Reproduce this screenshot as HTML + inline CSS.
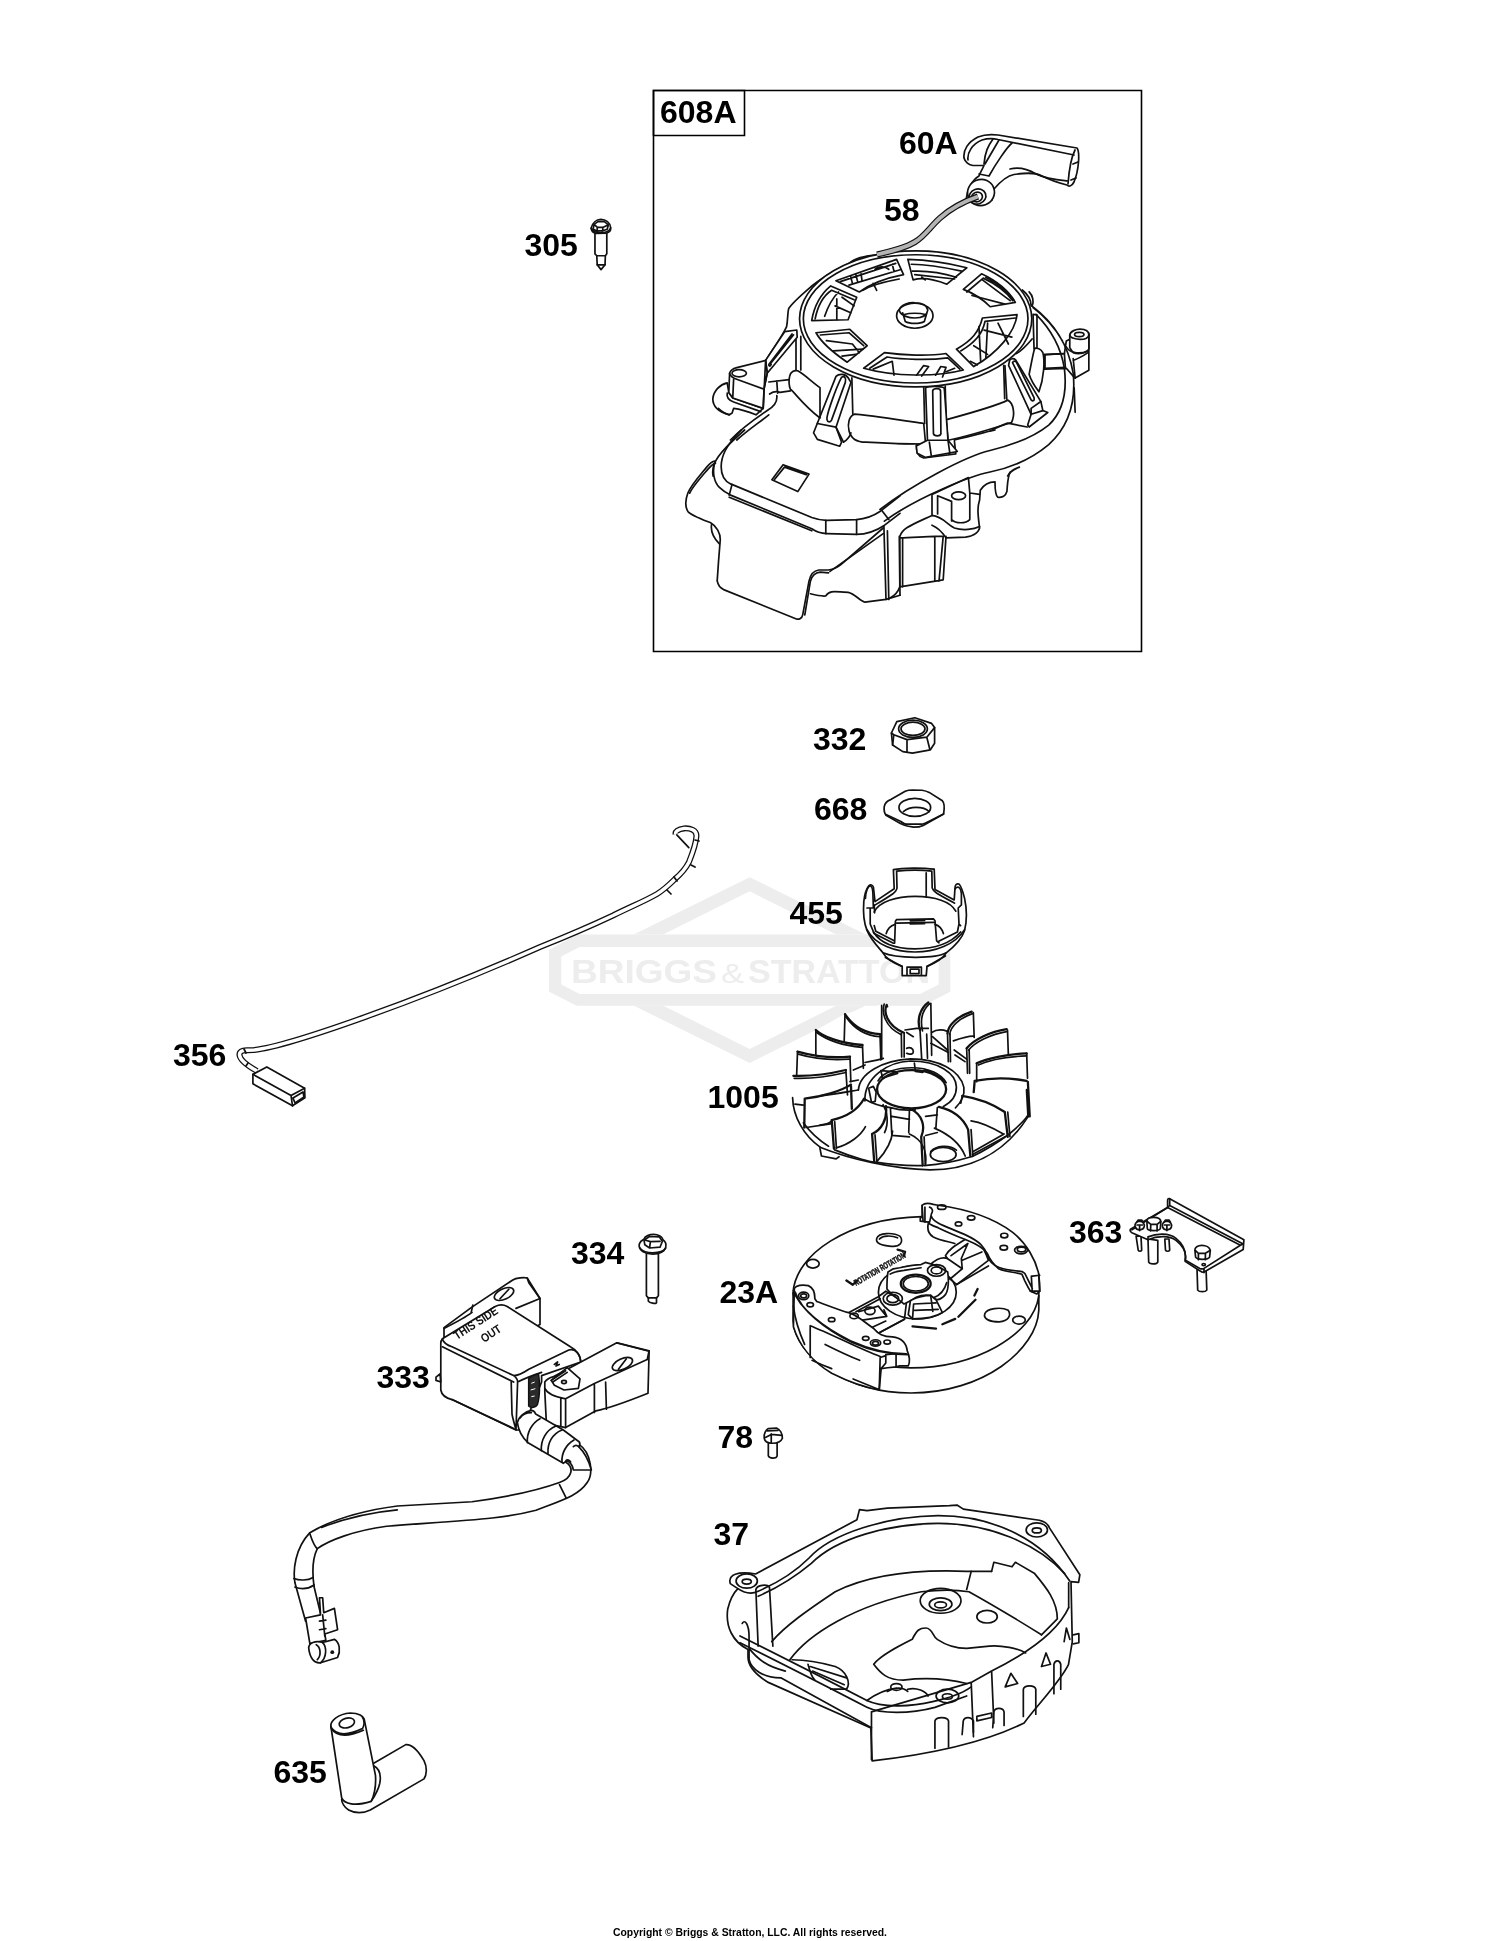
<!DOCTYPE html>
<html><head><meta charset="utf-8">
<style>
html,body{margin:0;padding:0;background:#fff;}
body{width:1500px;height:1941px;overflow:hidden;position:relative;}
svg{position:absolute;left:0;top:0;filter:grayscale(1);}
.lb{font-family:"Liberation Sans",sans-serif;font-weight:bold;font-size:32px;fill:#000;}
path,ellipse,circle,rect,polygon,polyline,line{vector-effect:non-scaling-stroke;}
.p{fill:#fff;stroke:#111;stroke-width:1.7;stroke-linejoin:round;stroke-linecap:round;}
.n{fill:none;stroke:#111;stroke-width:1.7;stroke-linejoin:round;stroke-linecap:round;}
.t{fill:none;stroke:#1a1a1a;stroke-width:1.0;stroke-linejoin:round;stroke-linecap:round;}
.k{fill:none;stroke:#111;stroke-width:2.3;stroke-linejoin:round;stroke-linecap:round;}
</style></head>
<body>
<svg width="1500" height="1941" viewBox="0 0 1500 1941">
<!-- wm -->
<g fill="#ededed" stroke="none">
<path fill-rule="evenodd" d="M749.7,877.3 L937.6,970.1 L749.7,1062.9 L561.8,970.1 Z M749.7,891.3 L907.4,970.1 L749.7,1048.9 L592,970.1 Z"/>
<path fill="#fff" d="M576.7,934.5 L923,934.5 L950.3,950 L950.3,991.7 L923,1005.7 L576.7,1005.7 L549.1,991.7 L549.1,950 Z"/>
<path fill-rule="evenodd" d="M576.7,934.5 L923,934.5 L950.3,950 L950.3,991.7 L923,1005.7 L576.7,1005.7 L549.1,991.7 L549.1,950 Z M579.6,947 L920,947 L938.7,956.5 L938.7,984.4 L920,994 L579.6,994 L561.3,984.4 L561.3,956.5 Z"/>
<g style="font-family:'Liberation Sans',sans-serif;font-weight:bold;font-size:34px">
<text x="571" y="983" textLength="146" lengthAdjust="spacingAndGlyphs">BRIGGS</text>
<text x="721" y="983" style="font-weight:normal;font-size:27px" textLength="23" lengthAdjust="spacingAndGlyphs">&amp;</text>
<text x="748" y="983" textLength="182" lengthAdjust="spacingAndGlyphs">STRATTON</text>
</g>
<text x="860" y="1024" style="font-family:'Liberation Sans',sans-serif;font-size:14px">®</text>
</g>

<!-- labels -->
<rect x="653.5" y="90.5" width="488" height="561" fill="none" stroke="#000" stroke-width="1.6"/>
<rect x="653.5" y="90.5" width="91" height="45" fill="none" stroke="#000" stroke-width="1.6"/>
<g class="lb">
<text x="660" y="123">608A</text>
<text x="899" y="154">60A</text>
<text x="884" y="221">58</text>
<text x="524.5" y="256">305</text>
<text x="813" y="750">332</text>
<text x="814" y="820">668</text>
<text x="789.5" y="924">455</text>
<text x="173" y="1066">356</text>
<text x="707.5" y="1108">1005</text>
<text x="571" y="1264">334</text>
<text x="1069" y="1243">363</text>
<text x="719.5" y="1303">23A</text>
<text x="376.5" y="1388">333</text>
<text x="717.5" y="1448">78</text>
<text x="713.5" y="1545">37</text>
<text x="273.5" y="1783">635</text>
</g>
<text x="613" y="1936" style="font-family:'Liberation Sans',sans-serif;font-weight:bold;font-size:10.5px" textLength="274" lengthAdjust="spacingAndGlyphs">Copyright © Briggs &amp; Stratton, LLC. All rights reserved.</text>

<!-- starter -->
<!-- TL region [690,230,900,440] f=0.14 -->
<g transform="translate(690,230) scale(0.14)">
<path class="n" d="M1340,178 C1250,185 1180,200 1140,235 C1050,280 940,340 870,400 C800,460 740,510 705,560 C695,600 700,640 690,690 C660,760 590,850 540,935"/>






</g>
<!-- TR region [890,230,1100,440] -->
<g transform="translate(890,230) scale(0.14)">
</g>
<!-- BL region [690,430,900,640] -->
<g transform="translate(690,430) scale(0.14)">
<path class="n" d="M390,0 C300,80 200,170 175,240 C160,300 170,370 210,410 C240,440 270,455 290,465 L870,705 C900,725 930,738 975,740 L1190,745 C1260,745 1330,720 1390,680 L1500,595"/>
<path class="n" d="M365,0 C290,80 235,150 225,230 C215,310 240,360 290,385 L870,625 C910,640 940,645 975,645 L1190,640 C1250,635 1300,620 1360,580 L1500,470"/>
<path class="n" d="M280,480 L870,720 M175,240 C165,260 160,300 165,330 M300,390 L280,465 M970,645 L970,740 M1190,640 L1190,745 M1370,575 L1420,640"/>
<path class="n" d="M585,355 L665,248 L850,315 L770,440 Z M605,352 L675,265 L830,320"/>
<path class="n" d="M195,1080 C200,1110 220,1130 240,1140 L760,1350 C780,1355 800,1345 805,1320 L850,1080 C860,1030 880,1005 920,1000 L990,1000 C1020,995 1050,985 1080,960 L1380,700"/>
<path class="n" d="M820,1320 L860,1080 C870,1040 890,1020 930,1015 L990,1020 M1000,1010 L1380,740"/>

<path class="n" d="M860,1170 C900,1180 940,1190 970,1185 C990,1150 1010,1150 1130,1160 C1180,1170 1210,1220 1250,1230 L1400,1210 L1500,1180"/>
<path class="n" d="M1385,690 L1400,1210 M1410,720 L1420,1210 M1495,760 L1500,1180"/>
</g>
<!-- BR region [890,430,1100,640] -->
<g transform="translate(890,430) scale(0.14)">


<path class="n" d="M860,300 C840,330 840,380 835,440 C825,470 800,485 770,480 C755,470 750,440 750,370 C710,370 670,390 645,430 L640,500 C620,560 630,620 640,700 C630,740 580,760 540,765 L400,770"/>
<path class="n" d="M300,460 L560,340 L570,450 L640,460 M300,460 L300,610 M340,470 L340,600 M340,470 L440,510 L440,650 M440,640 C470,670 540,670 570,640 L570,450"/>
<ellipse class="n" cx="490" cy="470" rx="50" ry="28"/>
<path class="n" d="M70,760 C90,700 150,680 300,610 C380,620 400,670 460,700 C520,720 600,710 640,690 M300,680 C350,700 380,740 400,770"/>
<path class="n" d="M70,770 L70,1120 M90,770 L90,1120 M70,770 C150,770 250,760 320,760 L380,760 M320,760 L320,1080 M380,760 L350,1080 M400,760 L380,1070 L70,1120 M0,1200 C40,1180 60,1150 70,1120"/>
<path class="n" d="M190,100 C185,150 200,190 240,200 L470,170 L460,80 M270,0 L290,190 M400,0 L420,170 M280,80 L410,70 M0,90 C100,100 150,100 200,90 M460,70 C600,40 700,10 750,0"/>
</g>
<!-- cylinder band [780,360] f=0.186667 -->
<g transform="translate(780,360) scale(0.186667)">
<path class="n" d="M385,95 L390,290 M770,145 L775,340 M1205,30 L1215,210 M885,140 L890,320"/>
<path class="p" d="M400,290 C550,305 700,330 770,340 L780,450 C700,450 550,445 460,440 C410,440 380,420 370,380 C360,340 370,300 400,290 Z"/>
<path class="p" d="M890,320 C1000,290 1150,250 1220,215 C1250,230 1262,290 1240,335 C1100,380 950,420 900,430 Z"/>

<path class="p" d="M180,390 L300,88 C315,72 350,72 365,95 L380,120 L300,360 L330,440 L320,462 L200,425 Z"/>
<path class="n" d="M252,320 C246,300 300,150 330,92 C345,85 356,95 350,120 L276,322 C270,334 256,336 252,320 Z M200,340 L300,360 M300,360 L340,440 C360,430 380,400 380,390"/>
<path class="p" d="M780,150 C790,138 862,138 880,150 L900,430 L950,490 L780,522 L735,500 L730,460 L790,430 Z"/>
<path class="n" d="M818,165 C822,150 858,150 860,165 L862,395 C860,410 826,410 822,395 Z M790,430 L900,430 M800,440 L810,510 M900,430 L910,500"/>
</g>
<!-- rim/windows [790,240] f=0.173333 -->
<g transform="translate(790,240) scale(0.173333)">
<ellipse class="p" cx="725" cy="455" rx="670" ry="392"/>
<ellipse class="n" cx="725" cy="455" rx="648" ry="370"/>
<path class="p" d="M265,235 L615,112 L655,200 C550,220 470,250 400,300 Z"/>
<path class="n" d="M290,240 L610,135 M340,260 L640,170 M350,210 L360,250 M380,200 L390,240 M410,195 L415,230 M490,170 C510,150 550,150 570,170 M590,140 L600,180 M420,290 C470,260 550,240 630,225 M480,250 L500,290"/>
<path class="p" d="M680,112 C800,115 920,135 1020,160 L905,255 C830,225 760,215 710,230 Z"/>
<path class="n" d="M700,140 C800,140 900,160 990,180 M705,180 C800,175 880,190 960,215 M720,200 L950,225 M760,215 L780,230"/>
<path class="p" d="M1000,285 L1105,195 C1180,230 1260,290 1300,360 L1155,385 C1100,330 1040,300 1000,285 Z"/>
<path class="n" d="M1020,300 L1115,220 C1190,255 1250,300 1285,350 M1050,320 L1240,370 M1110,230 L1270,350 M1130,215 C1200,250 1260,300 1290,345"/>
<path class="p" d="M960,630 C1050,580 1090,530 1110,450 L1310,430 C1300,530 1200,650 1060,730 Z"/>
<path class="n" d="M985,640 C1070,590 1110,540 1125,470 L1300,450 M1090,500 L1100,700 M1120,520 L1280,560 M1140,480 L1130,680 M1060,610 L1140,660 M1200,480 L1260,600 M1040,700 L1080,720"/>
<path class="p" d="M425,740 L545,650 C650,665 800,670 900,655 L1000,750 C850,790 600,790 425,740 Z"/>
<path class="n" d="M460,740 L560,675 C650,690 800,695 910,680 L980,745 M480,745 L590,700 L600,780 M730,780 L770,725 L800,730 L760,785 M840,780 L870,730 L900,735 L880,790 M900,760 L950,740"/>
<path class="p" d="M150,535 L345,515 L445,610 L330,705 C250,650 180,590 150,535 Z"/>
<path class="n" d="M175,548 L340,535 L425,610 M210,580 L360,600 L400,650 M250,640 L420,630 M300,670 L380,660"/>
<path class="p" d="M125,465 C140,380 180,310 235,265 L385,330 L335,460 Z"/>
<path class="n" d="M145,455 C160,380 195,320 240,290 L370,345 M200,440 C220,380 250,330 280,300 M260,380 L350,420 M270,340 L270,460 M300,330 L370,380"/>
<ellipse class="n" cx="720" cy="437" rx="105" ry="72"/>
<path class="n" d="M630,405 C640,370 690,360 720,362 C760,362 790,375 795,405 M630,405 C640,440 690,450 720,450 C760,450 790,440 795,405 M650,420 L665,470 M790,420 L775,470 M665,470 C690,485 750,485 775,470 M660,430 C690,420 750,420 780,430"/>
</g>
<!-- right region [990,290] f=0.097865 -->
<g transform="translate(990,290) scale(0.097865)">
<path class="p" d="M560,660 L760,650 L780,520 L820,500 L1010,440 L1010,820 L870,900 L850,880 L780,800 L560,810 Z"/>
<path class="n" d="M560,660 L560,810 M760,650 L770,790 M850,720 C900,700 960,670 1000,640 M870,900 L850,700"/>
<path class="p" d="M815,460 C820,420 880,400 920,400 C970,400 1010,420 1010,460 L1010,600 C990,650 900,660 850,640 L815,590 Z"/>
<ellipse class="n" cx="912" cy="455" rx="48" ry="22"/>
<path class="n" d="M815,460 C820,490 880,505 920,505 C970,505 1005,490 1010,460 M780,580 C800,630 900,670 1000,620"/>
<path class="p" d="M440,250 L480,255 L480,590 L450,600 Z"/>
<path class="n" d="M140,770 L150,1110 M270,650 C320,620 380,560 430,500"/>
<path class="p" d="M455,600 C480,588 520,600 540,640 C562,720 552,900 500,1040 C470,1000 420,930 400,860 C420,760 440,650 455,600 Z"/>
<path class="n" d="M550,660 L750,650 M560,800 L770,790"/>
<path class="p" d="M200,720 C210,700 240,695 262,715 L520,1140 L540,1232 L590,1252 L400,1400 L385,1380 L420,1270 L190,770 Z"/>
<path class="n" d="M230,742 C240,722 262,722 272,742 L450,1100 C456,1132 440,1142 420,1122 Z M420,1270 L540,1232 M520,1140 L420,1210 L420,1270"/>
<path class="n" d="M430,165 C650,330 800,560 850,850 C880,1150 800,1400 600,1580 C420,1730 200,1820 0,1860 C-200,1900 -750,2120 -1079,2362 M440,180 C560,270 660,380 740,520"/>
<path class="n" d="M470,250 C600,380 720,560 760,800 C790,1050 740,1250 600,1380 C450,1500 250,1580 0,1640 C-250,1700 -800,1990 -1124,2243"/>
<path class="n" d="M0,1440 C60,1410 120,1380 180,1360 L380,1400 M860,1000 L870,1250 M180,1900 C200,1850 250,1830 300,1810"/>
<path class="n" d="M420,160 C420,100 380,40 330,0 M430,165 C450,120 440,60 400,20"/>
</g>
<g transform="translate(680,430) scale(0.087565)">
<path class="n" d="M400,355 C370,350 340,380 300,430 C200,550 120,640 90,720 C60,800 60,880 90,930 C120,970 200,1000 350,1060 C420,1100 460,1180 460,1250 L440,1500 L425,1720"/>
<path class="n" d="M405,378 C380,385 350,412 310,458 C220,562 140,652 110,722 M360,1080 C350,1150 380,1230 450,1300"/>
</g>
<!-- left ear [700,330] f=0.08 -->
<g transform="translate(700,330) scale(0.08)">
<path class="n" d="M1200,90 L1200,510 M1260,80 L1260,500"/>
<path class="p" d="M820,380 L1060,20 L1210,0 L1215,90 L840,540 Z"/>
<path class="n" d="M860,430 L1150,50 M880,420 L1170,60 M860,440 C870,460 880,450 890,430"/>
<path class="p" d="M340,660 C250,680 170,760 160,860 C160,950 220,1020 360,1060 L400,1040 L420,980 C500,990 600,1020 700,1060 L790,980 L410,850 L360,780 Z"/>
<path class="n" d="M340,790 C330,850 360,880 420,900 L760,1020 M230,980 C270,1020 320,1050 370,1060"/>
<path class="p" d="M370,540 C380,500 420,480 460,470 L820,380 L840,540 L800,740 L790,980 L410,850 L360,780 Z"/>
<path class="n" d="M370,545 C380,580 410,600 450,612 L800,740 M420,620 L410,840 M820,380 L790,980 M840,540 L800,740"/>
<ellipse class="n" cx="490" cy="540" rx="90" ry="45"/>
<path class="p" d="M1120,580 C1130,520 1180,500 1220,510 C1300,550 1400,650 1500,720 L1500,1100 C1300,950 1200,800 1130,740 C1110,690 1110,630 1120,580 Z"/>
<path class="n" d="M860,650 L1115,620 M870,800 C900,780 950,760 1000,780 L1130,760 M960,640 L970,790"/>
<path class="n" d="M380,1375 C500,1250 700,1100 850,1000 C930,950 970,900 960,820 M460,1375 C600,1250 750,1150 860,1060"/>
</g>

<!-- handle -->
<g transform="translate(950,120) scale(0.1)">
<path class="p" d="M140,380 C130,300 180,220 280,170 C340,145 400,140 480,150 L1270,280 C1300,320 1290,500 1240,620 C1220,660 1190,670 1170,650 C1050,620 980,590 920,560 C850,520 750,530 640,545 C560,560 500,620 440,690 L420,800 L160,800 C170,700 220,600 290,560 C300,530 320,500 340,455 L230,455 C190,450 150,420 140,380 Z"/>
<path class="n" d="M180,400 C170,330 220,240 320,200 C370,185 420,180 480,195 L1240,350 M1250,300 C1210,380 1190,500 1180,640 M1230,440 L1280,420 M1210,600 L1260,580"/>
<path class="n" d="M600,490 C680,470 760,480 860,540 C960,590 1080,600 1180,610"/>
<path class="n" d="M490,200 L350,440 M430,190 C380,260 350,320 340,440 M620,230 C570,270 450,450 390,560 M290,540 L390,560"/>
</g>
<ellipse class="p" cx="981" cy="192.5" rx="13.5" ry="13" transform="rotate(-20 981 192.5)"/>
<ellipse class="p" cx="977.5" cy="196.5" rx="8.5" ry="7.5" transform="rotate(-20 977.5 196.5)"/>
<ellipse class="n" cx="977" cy="197" rx="5.5" ry="4.8" transform="rotate(-20 977 197)"/>
<path d="M978,196.5 C965,201 950,209 940,218 C930,227 925,236 915,242 C905,248 893,251 877,254.5" fill="none" stroke="#111" stroke-width="6.2" stroke-linecap="butt"/>
<path d="M978,196.5 C965,201 950,209 940,218 C930,227 925,236 915,242 C905,248 893,251 877,254.5" fill="none" stroke="#b4b4b4" stroke-width="3.8" stroke-linecap="butt"/>

<!-- small -->
<!-- 305 screw [510,210] f=0.08 -->
<g transform="translate(510,210) scale(0.08)">
<path class="p" d="M1062,285 L1062,548 L1085,572 L1090,685 L1138,745 L1188,685 L1192,572 L1210,548 L1210,285 Z"/>
<path class="n" d="M1085,572 L1192,572 M1090,685 L1188,685"/>
<path class="p" d="M1015,225 C1030,160 1080,120 1135,118 C1200,120 1250,160 1258,220 C1262,250 1240,280 1200,290 L1080,292 C1040,285 1015,260 1015,225 Z"/>
<path class="n" d="M1050,180 L1100,145 L1180,145 L1230,185 L1215,240 L1160,260 L1090,262 L1040,240 Z M1050,180 L1090,215 L1160,218 L1230,185 M1090,215 L1090,262 M1160,218 L1160,260 M1015,230 C1030,265 1080,285 1130,285 C1190,285 1240,265 1258,225"/>
</g>
<!-- 332 nut [790,700] f=0.12 -->
<g transform="translate(790,700) scale(0.12)">
<path class="p" d="M845,275 L890,180 L1040,148 L1180,195 L1205,230 L1205,360 L1170,415 L1020,442 L940,430 L855,375 Z"/>
<path class="n" d="M845,275 L865,290 L975,330 L1140,310 L1205,230 M975,330 L975,435 M1140,310 L1165,410 M865,290 L855,375"/>
<ellipse class="n" cx="1025" cy="240" rx="120" ry="72"/>
<ellipse class="n" cx="1025" cy="240" rx="100" ry="55"/>
</g>
<!-- 668 washer -->
<g transform="translate(790,700) scale(0.12)">
<path class="p" d="M785,890 C790,860 810,840 840,830 L960,760 C980,752 1000,750 1020,750 L1100,752 C1120,755 1140,760 1160,770 L1270,840 C1290,860 1290,890 1280,950 L1110,1045 C1090,1055 1060,1060 1030,1060 L975,1050 C950,1045 940,1040 920,1030 L800,960 C785,940 782,915 785,890 Z"/>
<path class="n" d="M800,955 L920,1010 C940,1025 960,1035 975,1035 L1100,1035 C1120,1030 1140,1020 1160,1010 L1280,950"/>
<ellipse class="n" cx="1040" cy="895" rx="132" ry="75"/>
<path class="n" d="M945,930 C980,900 1020,895 1050,895 C1100,895 1140,910 1160,930"/>
</g>
<!-- 334 bolt [560,1200] f=0.16 -->
<g transform="translate(560,1200) scale(0.16)">
<path class="p" d="M540,330 L540,598 L552,612 L552,632 C560,645 600,648 600,645 C605,645 603,635 603,632 L603,612 L615,598 L615,330 Z"/>
<path class="n" d="M552,612 L603,612"/>
<path class="p" d="M495,290 C490,260 520,250 525,245 C530,225 560,215 585,215 C615,215 640,230 645,250 C660,260 665,280 660,300 C650,325 620,338 580,338 C535,338 500,320 495,290 Z"/>
<path class="n" d="M525,250 L560,228 L620,230 L640,258 L625,295 L560,300 L530,280 Z M560,300 L565,260 L625,258 M565,260 L530,250 M498,300 C520,325 560,330 580,330 C620,330 650,320 660,300"/>
</g>
<!-- 78 bolt [360,1340] f=0.29333 -->
<g transform="translate(360,1340) scale(0.29333)">
<path class="p" d="M1392,350 L1392,395 C1395,405 1420,405 1422,395 L1422,350 Z"/>
<path class="p" d="M1378,335 C1375,320 1385,305 1392,302 L1420,300 C1432,305 1440,320 1440,335 C1435,348 1420,352 1405,352 C1390,352 1380,345 1378,335 Z"/>
<path class="n" d="M1388,310 L1425,308 M1402,320 L1402,350 M1382,332 L1402,322 L1438,325"/>
</g>

<!-- cup -->
<g transform="translate(855,860) scale(0.08)">
<path class="p" d="M175,320 C150,350 120,420 110,520 C100,650 110,780 150,880 C200,1000 300,1100 350,1160 C380,1220 440,1270 590,1330 L590,1445 L890,1445 L900,1330 C1020,1280 1100,1230 1140,1160 C1230,1090 1330,1000 1370,880 C1400,760 1395,600 1370,480 C1350,400 1330,330 1300,300 C1270,290 1250,310 1250,350 L1240,500 L1000,370 L990,115 C850,95 600,95 480,120 L490,360 L250,520 L230,340 C220,310 195,305 175,320 Z"/>
<path class="n" d="M240,650 C300,520 520,455 750,455 C1000,455 1200,520 1260,640"/>
<path class="n" d="M150,870 C250,1060 500,1150 750,1150 C1000,1150 1250,1060 1370,870 M230,900 C330,1060 550,1110 750,1110 C950,1110 1180,1060 1320,900 M350,1160 C500,1230 1000,1240 1140,1160 M380,1220 L590,1330 M900,1330 L1130,1200"/>
<path class="n" d="M520,140 C650,125 850,125 960,140 M520,140 L525,350 C520,400 470,430 255,560 M960,140 L965,350 C980,400 1020,420 1245,540 M890,160 L890,460 M240,560 L245,660"/>
<path class="n" d="M130,480 C135,400 150,340 190,320 M200,330 C215,340 225,380 225,460 L230,600 L190,600 M150,600 L190,600 L190,800 L240,920 L480,1040 M240,820 L260,890 L490,1010 M1300,800 L1280,900 L1040,1020 M1250,360 C1290,320 1320,340 1330,420 L1330,560 L1290,600 L1300,800 L1320,820"/>
<path class="n" d="M495,1040 L505,765 L520,745 L980,735 L1000,760 L1020,1010 L1050,1035"/>
<path class="n" d="M520,790 L990,780 M390,920 C410,850 450,820 500,805 M1105,920 C1085,850 1050,820 1000,805 M690,760 L870,755 M690,800 L870,795"/>
<path class="n" d="M650,1340 L830,1340 L830,1440 M650,1340 L650,1440 M690,1365 L800,1365 L800,1420 L690,1420 Z"/>
</g>

<!-- fan -->
<path fill="#fff" stroke="none" d="M792.6,1097.7 L793.5,1074.8 L798.2,1051 L816.4,1030 L845.3,1013.7 L882.7,1004.3 L887.3,1004.3 L888.3,1026.7 L917.7,1023 L928.9,1002.9 L930.8,1003.9 L931.7,1030.5 L947.6,1029.5 L970.9,1011.8 L972.8,1012.7 L973.7,1037.9 L1006.4,1029.5 L1007.3,1030.5 L1007.8,1054.7 L1026,1053.8 L1026.9,1054.7 L1029.7,1116.3 L1002.7,1146.2 L970,1157.4 L900,1166.7 L864,1166.7 L836,1156.5 L808,1139.7 L793,1121 Z"/>
<!-- left half f=0.09333 -->
<g transform="translate(780,995) scale(0.093333)">
<path class="k" d="M265,1110 C450,1090 650,1030 760,960 M265,1110 L260,1420 M760,960 L770,1220"/>
<path class="n" d="M135,1100 C140,1300 250,1500 430,1630 M250,1370 C330,1480 420,1560 520,1620"/>
<path class="n" d="M160,1170 L250,1180 M280,1420 L540,1380"/>
</g>
<!-- right half -->
<g transform="translate(900,995) scale(0.093333)">
<path class="k" d="M1355,920 C1150,880 950,890 800,920 M1370,930 L1390,1300 M800,920 L790,1040"/>


</g>
<!-- fan center [850,1050] f=0.093333 -->
<g transform="translate(850,1050) scale(0.093333)">
<path class="n" d="M90,430 C100,250 350,110 650,95 C950,95 1180,220 1220,400 C1230,480 1190,560 1130,620"/>
<path class="n" d="M160,545 C150,300 400,125 650,118 C950,118 1140,250 1140,400 C1140,490 1090,560 1000,605"/>
<path class="n" d="M300,330 C350,240 500,190 660,190 C850,190 980,260 1030,350"/>
<ellipse class="k" cx="660" cy="420" rx="370" ry="205"/>
<path class="n" d="M690,140 L700,230 L780,240 L800,210 L850,230 C920,260 990,300 1020,340 M330,220 L350,300 L510,250 L500,235 Z M200,410 L250,390 L280,450 L270,550 L230,560 Z"/>








</g>
<g transform="translate(780,995) scale(0.173333)">

</g>
<!-- fan front [820,1090] f=0.146667 -->
<g transform="translate(820,1090) scale(0.146667)">
<path class="n" d="M0,390 C200,470 500,540 750,545 C1000,545 1250,450 1420,180"/>
<path class="n" d="M100,408 C250,470 350,490 370,492 M380,492 C500,512 600,518 700,515 M710,515 C850,505 950,480 1030,455 M1035,455 C1150,400 1250,330 1290,300 M1290,300 C1350,250 1400,200 1415,175"/>
<path class="k" d="M80,205 C150,190 250,150 300,60 M80,205 L95,400 M355,300 C420,270 460,200 450,110 M355,300 L370,490 M690,320 C720,250 700,170 620,130 M690,320 L700,515 M1010,270 C980,200 920,140 810,115 M1010,270 L1025,450 M1260,150 C1200,110 1100,60 970,40 M1260,150 L1280,320 M1410,0 L1420,180"/>
<path class="n" d="M100,215 L112,398 M375,305 L388,490 M710,320 L718,512 M1030,270 L1042,448 M1280,150 L1295,318 M970,40 L960,90"/>
<path class="n" d="M110,395 C200,370 280,310 310,250 M390,485 C450,420 490,350 495,280 M720,505 C730,420 700,340 610,300 M780,260 C850,290 950,350 990,450 M1030,210 C1100,220 1200,270 1250,300 M1040,440 L1260,320 M1045,420 L1255,300"/>
<path class="n" d="M300,60 C350,90 400,110 480,120 C550,140 600,140 650,135 M480,120 L490,310 M610,130 L605,290 M800,120 L790,260 M490,180 L610,200 M490,310 L610,320 M720,180 L800,170 M720,310 L800,290 M430,100 C460,150 470,230 440,290"/>
<ellipse class="n" cx="840" cy="440" rx="88" ry="48"/>
<path class="n" d="M755,420 C790,380 880,370 930,410 M0,400 L10,450 L110,470 L130,455 M0,40 C100,30 200,10 260,0 M0,240 C40,235 70,225 80,210"/>
</g>
<!-- fan back [790,995] f=0.166667 -->
<g transform="translate(790,995) scale(0.166667)">
<path class="k" d="M45,340 C150,370 250,380 360,370 M20,485 C150,490 250,470 335,450 M155,210 C200,250 300,290 435,300 M330,115 C380,190 450,230 540,235 M580,60 C560,100 580,180 680,225 M830,45 C780,80 760,150 780,210 M1090,100 C1000,130 950,180 945,230 M1300,205 C1200,220 1100,270 1060,320 M1420,350 C1300,355 1180,380 1120,410"/>
<path class="n" d="M50,355 C150,385 250,392 355,385 M25,500 C150,505 250,485 335,465 M160,225 C210,262 300,302 432,314 M335,130 C385,202 452,244 538,250 M565,55 C550,100 565,190 668,238 M838,52 C795,90 780,150 795,215 M1095,112 C1010,142 962,190 958,238 M1300,220 C1205,235 1110,282 1072,330 M1420,365 C1300,370 1190,392 1130,420"/>
<path class="n" d="M45,340 L40,480 M360,370 L365,520 M335,450 L345,600 M155,210 L155,360 M435,300 L440,440 M330,115 L325,280 M540,235 L545,390 M550,62 L550,385 M580,60 L585,70 M668,228 L670,372 M685,225 L685,372 M845,50 L850,362 M780,210 L790,380 M820,235 L825,380 M1100,105 L1105,255 M945,230 L950,400 M960,235 L963,400 M1305,210 L1310,355 M1060,320 L1065,470 M1075,328 L1078,470 M1420,350 L1425,500 M1120,410 L1120,520"/>
<path class="n" d="M690,210 L760,200 L830,200 M700,225 L740,250 M850,225 C880,205 910,205 945,218 M855,250 L945,330 M845,290 L950,345 M980,275 C1040,255 1090,245 1105,248 M985,330 L1060,385 M990,360 L1050,400 M380,450 L450,420 M450,405 C500,395 545,385 560,380 M700,320 C720,310 740,320 740,340 C740,355 720,360 700,350 M360,520 L410,510"/>
</g>

<!-- flywheel -->
<g transform="translate(785,1195) scale(0.18)">
<path class="p" d="M45,540 C60,330 350,130 760,120 C1100,120 1400,300 1410,480 L1410,640 C1400,860 1100,1100 700,1100 C350,1100 60,900 45,700 Z"/>
<path class="n" d="M45,545 C80,760 350,960 700,960 C1050,960 1380,780 1410,560"/>

<!-- front magnet -->
<!-- back magnet -->
<!-- hub and arms -->
<!-- holes -->
<ellipse class="n" cx="155" cy="382" rx="35" ry="24"/>
<path class="n" d="M510,240 C520,210 600,205 640,230 C660,260 640,290 590,285 C540,280 500,270 510,240 Z M525,245 C540,225 590,222 625,238"/>
<path class="n" d="M1110,660 C1120,630 1200,620 1240,640 C1260,670 1240,700 1190,705 C1140,705 1100,690 1110,660 Z"/>
<ellipse class="n" cx="1300" cy="695" rx="35" ry="22"/>
<!-- text -->
</g>

<g transform="translate(785,1195) scale(0.18)">
</g>
<!-- front magnet [785,1280] f=0.093333 -->
<g transform="translate(785,1280) scale(0.093333)">
<path class="p" d="M680,350 L1000,180 L1080,120 L1300,250 L1280,420 L1000,570 L930,510 L860,460 Z"/>
<path class="n" d="M760,340 L1020,200 M830,430 L1090,390 L1060,320 M790,340 L1000,280 L1080,380 M930,510 L1080,440 M1000,570 L1280,420"/>
<ellipse class="n" cx="910" cy="330" rx="55" ry="40"/>
<path class="p" d="M100,90 C120,60 180,45 250,60 C300,80 320,130 320,200 L340,230 C450,270 600,330 680,350 C750,360 850,450 950,520 C1000,580 1050,610 1150,610 C1250,620 1300,680 1310,760 C1340,830 1340,880 1320,920 L1230,920 L1190,930 L1100,940 L1030,950 L1010,1175 C900,1160 700,1100 500,1000 C300,880 150,700 90,500 Z"/>
<path class="n" d="M90,110 C150,300 400,500 700,650 C900,740 1100,790 1300,790 M110,130 C170,320 420,520 720,670 C920,760 1100,800 1320,800"/>
<path class="n" d="M270,490 C500,580 800,740 1020,820 L1010,1170 M270,490 L270,830 M1020,830 L1080,810 L1080,890 L1030,950 M1080,800 L1190,790 L1190,930 M90,280 C110,450 170,600 210,690 M430,690 C550,750 700,820 800,860 M290,860 C350,890 420,920 500,950 M730,1060 L1000,1170"/>
<ellipse class="n" cx="200" cy="170" rx="55" ry="40"/>
<ellipse class="n" cx="200" cy="170" rx="32" ry="22"/>
<ellipse class="n" cx="270" cy="265" rx="35" ry="22"/>
<ellipse class="n" cx="500" cy="425" rx="35" ry="22"/>
<ellipse class="n" cx="740" cy="385" rx="45" ry="30"/>
<ellipse class="n" cx="865" cy="625" rx="35" ry="22"/>
<ellipse class="n" cx="970" cy="675" rx="55" ry="35"/>
<ellipse class="n" cx="970" cy="678" rx="32" ry="20"/>
<ellipse class="n" cx="1095" cy="665" rx="35" ry="22"/>
</g>
<!-- back magnet [910,1195] f=0.093333 -->
<g transform="translate(910,1195) scale(0.093333)">
<path class="p" d="M380,650 C420,580 470,550 600,470 L780,560 C800,600 820,640 840,700 L500,960 L430,900 L200,770 C250,700 330,660 400,680 Z"/>
<path class="n" d="M440,650 L620,520 M400,680 L560,790 L430,900 M560,700 L770,610 M500,960 L840,760 M560,790 L550,680 L620,520"/>
<path class="p" d="M130,110 C150,90 200,85 250,100 L300,110 C600,150 900,250 1100,400 C1250,520 1350,700 1380,850 L1390,1030 L1360,1060 L1290,1030 C1270,1000 1250,960 1230,920 L1200,850 C1150,830 1000,820 950,790 C880,730 850,680 830,630 C800,580 700,520 600,480 C500,440 400,400 300,350 C220,320 190,300 200,290 L110,280 L110,250 L130,230 Z"/>
<path class="n" d="M230,230 C250,300 400,340 600,430 C750,500 800,560 830,650 C870,780 1000,800 1200,820 L1230,840 L1310,1000 M200,290 C180,360 200,420 250,450 C330,490 420,500 480,520 M130,110 L140,280 M160,130 L160,290 M210,130 C240,140 250,170 230,200 L210,290 M1300,870 L1310,1040 M1310,870 L1390,860 M1290,1030 L1390,1030 M1380,850 C1385,900 1390,980 1390,1030"/>
<ellipse class="n" cx="340" cy="130" rx="45" ry="25"/>
<ellipse class="n" cx="655" cy="245" rx="40" ry="25"/>
<ellipse class="n" cx="520" cy="310" rx="35" ry="22"/>
<ellipse class="n" cx="1010" cy="435" rx="38" ry="25"/>
<ellipse class="n" cx="1005" cy="565" rx="40" ry="25"/>
<ellipse class="n" cx="1190" cy="590" rx="70" ry="40"/>
<ellipse class="n" cx="1195" cy="585" rx="45" ry="25"/>
</g>
<!-- hub [840,1240] f=0.106667 -->
<g transform="translate(840,1240) scale(0.106667)">
<ellipse class="n" cx="725" cy="490" rx="365" ry="250"/>
<path class="p" d="M450,300 L500,270 L560,260 C650,240 700,230 760,230 L800,210 C850,220 900,240 940,260 L1010,300 C1020,380 1020,460 990,510 C950,560 920,570 880,550 L850,520 C800,510 720,520 680,560 L600,600 C550,560 470,500 440,460 C440,400 440,350 450,300 Z"/>
<path class="n" d="M470,320 C500,300 560,290 600,285 L760,260 M880,540 C930,520 980,470 1000,400"/>
<ellipse class="k" cx="710" cy="410" rx="140" ry="85"/>
<ellipse class="n" cx="710" cy="410" rx="118" ry="68"/>
<ellipse class="n" cx="905" cy="285" rx="85" ry="55"/>
<ellipse class="n" cx="905" cy="285" rx="50" ry="32"/>
<ellipse class="n" cx="495" cy="550" rx="90" ry="60"/>
<ellipse class="n" cx="495" cy="550" rx="55" ry="38"/>
<path class="p" d="M660,570 C700,540 800,520 850,520 L900,560 L960,680 C900,720 800,740 680,740 L640,700 Z"/>
<path class="n" d="M690,600 L900,590 M700,660 L920,650 M850,520 L870,670 M680,740 L690,600"/>
<path class="k" d="M60,380 L120,420 L160,380 M540,90 L610,110 L600,150 M680,810 L900,830 M960,790 L1080,740 M1110,720 L1270,560 M1260,520 L1290,460"/>
</g>
<text transform="translate(856,1286) rotate(-30)" style="font-family:'Liberation Sans',sans-serif;font-weight:bold;font-size:8.5px" fill="#111" stroke="#111" stroke-width="0.5" textLength="58" lengthAdjust="spacingAndGlyphs">ROTATION ROTATION</text>

<!-- bracket -->
<g transform="translate(1050,1190) scale(0.14)">
<path class="p" d="M615,330 L630,430 C635,440 650,440 655,430 L650,330 Z"/>
<path class="p" d="M700,350 L705,515 C710,530 760,535 770,515 L770,360 Z"/>
<path class="p" d="M820,350 L825,430 C830,440 850,440 855,430 L850,350 Z"/>
<path class="p" d="M1050,560 L1055,715 C1065,730 1110,730 1120,715 L1115,570 Z"/>
<path class="p" d="M575,280 C570,290 575,300 585,305 L700,355 C760,330 850,320 900,360 C950,400 980,450 965,510 L1075,580 C1085,590 1100,590 1110,580 L1380,425 L1385,355 L855,62 C845,58 840,65 840,75 L840,125 Z"/>
<path class="n" d="M585,285 L840,125 L1360,395 L1100,560 C1090,565 1080,565 1070,560 L965,500 M700,335 C760,310 850,305 900,345 C950,385 975,440 965,500 M840,125 L855,110 L1380,385 M855,62 L855,110 M1360,395 L1380,385 M700,340 L700,355 M1100,560 L1100,590"/>
<ellipse class="n" cx="1098" cy="533" rx="12" ry="8"/>
<!-- bolts -->
<path class="p" d="M610,265 C600,245 615,225 640,222 C665,225 680,245 672,265 C665,290 620,292 610,265 Z"/>
<path class="n" d="M620,228 L630,215 L655,215 L665,228 M622,250 L660,250 M640,250 L640,290"/>
<path class="p" d="M692,225 C690,205 710,195 740,195 C770,195 790,205 792,225 L788,275 C780,295 700,295 695,275 Z"/>
<path class="n" d="M695,225 L720,245 L765,245 L790,225 M720,245 L718,292 M765,245 L765,292"/>
<path class="p" d="M805,265 C795,245 810,225 835,222 C860,225 875,245 867,265 C860,290 815,292 805,265 Z"/>
<path class="n" d="M815,228 L825,215 L850,215 L860,228 M817,250 L855,250 M835,250 L835,290"/>
<path class="p" d="M1035,430 C1033,410 1055,395 1085,395 C1115,395 1140,410 1145,430 L1140,480 C1130,500 1050,500 1040,480 Z"/>
<path class="n" d="M1038,432 L1060,452 L1110,452 L1143,432 M1060,452 L1060,498 M1110,452 L1110,498"/>
</g>

<!-- housing -->
<g transform="translate(710,1500) scale(0.253333)">
<path class="p" d="M80,330 C70,295 110,280 180,292 L580,78 L590,38 L620,42 L700,32 L945,22 L975,20 L1000,36 L1300,80 C1320,85 1335,95 1340,110 L1460,295 L1455,325 L1425,322 L1430,560 L1415,650 C1380,720 1300,800 1240,880 C1100,950 900,1000 640,1030 L635,900 L230,720 C180,690 150,660 150,620 L150,590 C90,560 60,500 70,430 C80,390 100,360 110,350 Z"/>
<path class="n" d="M110,350 C140,370 170,370 190,360 C260,330 330,290 390,230 C480,130 700,65 900,62 C1100,62 1300,140 1420,320"/>
<path class="n" d="M190,380 C270,345 340,300 400,250 C500,150 700,95 900,92 C1100,92 1290,170 1400,290"/>
<ellipse class="n" cx="145" cy="320" rx="42" ry="28"/>
<ellipse class="n" cx="145" cy="322" rx="18" ry="10"/>
<ellipse class="n" cx="1290" cy="118" rx="42" ry="28"/>
<ellipse class="n" cx="1290" cy="120" rx="18" ry="10"/>
</g>
<!-- housing interior [740,1560] f=0.226667 -->
<g transform="translate(740,1560) scale(0.226667)">
<path class="n" d="M140,360 C200,290 300,220 420,140 C550,75 750,40 1000,50 L1110,50"/>
<path class="n" d="M220,440 C300,330 500,200 800,140 C900,128 980,135 1010,140 C1100,190 1250,280 1330,330"/>
<path class="n" d="M1020,50 L1000,130 M1110,50 L1120,10 L1200,30 L1215,10 L1300,60 C1350,120 1400,180 1400,260 L1330,330 M1450,100 L1450,210"/>
<path class="n" d="M590,460 C620,420 700,380 760,350 C780,310 790,300 820,300 C850,300 850,340 870,350 C900,370 950,390 1000,390 L1100,380 C1150,375 1230,390 1260,410 M590,460 C620,500 650,530 720,530 C800,520 900,520 1000,545"/>
<ellipse class="n" cx="885" cy="180" rx="90" ry="55"/>
<ellipse class="n" cx="885" cy="195" rx="50" ry="28"/>
<ellipse class="n" cx="885" cy="198" rx="26" ry="13"/>
<ellipse class="n" cx="1090" cy="250" rx="45" ry="28"/>
<path class="n" d="M0,335 C150,410 350,510 560,620 C620,650 750,650 850,625 C920,610 980,590 1020,560 M0,365 C150,440 350,540 560,650 C620,680 750,680 860,650 L1000,600"/>
<path class="n" d="M70,130 L80,380 M130,120 L145,380 M70,130 C75,110 120,105 130,120 M10,280 C20,260 40,280 40,340 L40,440 C50,480 100,520 180,520 L580,740 M40,390 C80,440 120,470 200,490"/>
<path class="n" d="M230,440 C280,440 350,450 420,470 C470,490 490,540 470,570 L400,570 M300,460 C310,500 320,520 330,530 M320,490 L460,550 M310,470 L470,520"/>
<path class="n" d="M580,670 L580,880 M580,670 L1020,540 L1110,490 C1250,420 1400,320 1450,210 M1020,540 L1030,780 M1110,490 L1120,720"/>
<ellipse class="n" cx="915" cy="600" rx="50" ry="30"/>
<ellipse class="n" cx="915" cy="602" rx="22" ry="12"/>
<path class="n" d="M560,620 C600,590 650,570 690,565 M650,580 C680,560 720,560 740,580 M740,570 C780,560 820,580 830,600"/>
<ellipse class="n" cx="690" cy="560" rx="25" ry="15"/>
<path class="n" d="M860,830 L860,710 C865,690 915,690 920,710 L920,825 M1250,690 L1250,570 C1255,550 1300,550 1305,570 L1305,680 M1385,590 L1385,460 C1390,440 1410,440 1415,460 L1415,570"/>
<path class="n" d="M1170,560 L1195,500 L1225,545 Z M1330,470 L1350,410 L1370,460 Z M1430,360 L1440,300 L1455,350"/>
<path class="n" d="M980,770 L985,710 C990,690 1020,690 1030,710 L1030,760 M1115,740 L1120,670 C1125,650 1160,650 1165,670 L1165,730 M1045,690 L1110,675 L1110,695 L1045,710 Z"/>
<path class="n" d="M1470,330 L1495,325 L1495,365 L1470,370"/>
</g>

<!-- coil -->
<!-- wire [280,1410] f=0.213333 -->
<g transform="translate(280,1410) scale(0.213333)">
<path class="p" d="M1400,160 C1460,200 1470,300 1440,340 C1400,400 1330,420 1200,470 C1050,510 900,515 500,545 C350,565 230,610 175,650 C150,700 150,760 160,830 L195,975 L120,990 L70,810 C60,750 70,650 140,575 C250,510 400,470 550,450 L900,430 C1050,410 1200,380 1310,340 C1370,320 1380,270 1340,245 Z"/>
<path class="n" d="M195,550 C300,510 420,480 550,468 M140,580 C150,610 160,640 175,650 M1310,350 L1340,410 M65,790 C90,800 130,800 155,785 M70,830 C95,840 130,840 160,820"/>
<path class="p" d="M120,975 L190,960 L185,880 L200,880 L205,950 L255,930 L270,1030 L210,1050 L215,1080 L140,1095 Z"/>
<path class="n" d="M185,990 L215,985 M185,1030 L215,1025 M200,960 L210,1060"/>
<path class="p" d="M135,1120 C130,1090 170,1080 200,1090 L255,1075 C280,1090 285,1130 270,1160 L190,1185 C160,1190 140,1160 135,1120 Z"/>
<path class="n" d="M200,1090 C220,1110 220,1160 190,1185 M170,1100 C190,1110 195,1150 175,1170"/>
<circle cx="245" cy="1135" r="9" fill="#111"/>
</g>
<!-- coil [420,1270] f=0.16 -->
<g transform="translate(420,1270) scale(0.16)">
<path class="p" d="M150,360 L320,235 L580,62 C600,50 650,45 670,50 L750,178 L750,340 L600,420 L150,420 Z"/>
<path class="n" d="M150,365 C200,340 280,300 325,265 M330,220 L320,265 M670,50 L680,80 L750,178 M600,240 L750,178"/>
<ellipse class="n" cx="525" cy="150" rx="65" ry="33" transform="rotate(-25 525 150)"/>
<path class="n" d="M500,180 L555,120"/>
<path class="p" d="M140,430 L470,228 C490,218 520,215 545,228 L940,480 C980,500 1005,540 1005,575 L760,660 L760,700 L640,1000 L600,1000 L200,810 C160,800 135,780 130,750 L130,460 C130,445 135,435 140,430 Z"/>
<path class="n" d="M140,432 C150,460 170,470 200,480 L585,660 C600,670 610,680 610,700 L600,1000 M585,660 C620,660 650,640 680,620 L930,500 C970,490 1000,520 1005,575 M610,700 C630,690 700,660 760,640 M570,700 L575,900 C580,930 590,960 600,1000 M140,480 L585,700 M200,810 L585,990"/>

<path class="p" d="M780,700 C790,685 805,675 830,668 L1230,455 L1432,505 L1425,770 C1300,820 1200,860 1100,880 L910,985 L790,960 L780,760 Z"/>
<path class="n" d="M780,740 C790,760 820,790 910,805 L1090,710 L1420,560 M1230,455 L1420,505 M910,805 L910,985 M880,800 L880,975 M1090,710 L1090,890 M1160,700 L1165,870 M1420,560 L1432,505"/>
<ellipse class="n" cx="1265" cy="588" rx="68" ry="33" transform="rotate(-25 1265 588)"/>
<path class="n" d="M1240,620 L1290,555"/>
<path class="p" d="M820,690 L920,610 L1000,680 L990,740 L900,750 L840,720 Z"/>
<path class="n" d="M820,690 L910,630 M830,700 L920,640"/>
<ellipse class="n" cx="900" cy="700" rx="15" ry="10"/>
<path class="n" d="M840,590 L860,575 L850,600 L870,590 M100,670 L125,650 L130,700 L100,690 Z"/>

</g>
<!-- boot [500,1370] f=0.066667 -->
<g transform="translate(500,1370) scale(0.066667)">
<path d="M430,130 C470,90 560,50 580,70 C600,200 600,400 560,520 C540,560 470,580 430,540 Z" fill="#2a2a2a" stroke="#111" stroke-width="1.5"/>
<path d="M470,200 L520,180 M460,300 L530,280 M470,400 L520,390" stroke="#fff" stroke-width="1" fill="none"/>
<path class="p" d="M260,790 C280,700 380,620 470,605 C500,605 520,625 535,660 L950,900 L1190,1080 C1200,1100 1200,1130 1180,1150 C1250,1220 1330,1350 1370,1500 L1100,1500 C1090,1430 1050,1380 1000,1360 L950,1400 L640,1220 L420,1090 C350,1030 280,920 260,790 Z"/>
<path class="n" d="M410,1090 C400,950 470,800 600,730 M620,1210 C610,1050 690,900 840,840 M720,1250 C710,1100 780,960 930,900 M930,1380 C920,1250 990,1120 1110,1050 M1100,1150 C1120,1130 1150,1120 1180,1150 M990,1360 C1010,1340 1040,1350 1060,1380 M300,720 C340,660 400,640 470,640"/>
</g>
<g style="font-family:'Liberation Sans',sans-serif;font-weight:bold;font-size:12px" fill="#111">
<text transform="translate(457,1340) rotate(-33)" textLength="50" lengthAdjust="spacingAndGlyphs">THIS SIDE</text>
<text transform="translate(484,1343) rotate(-33)" textLength="22" lengthAdjust="spacingAndGlyphs">OUT</text>
</g>

<!-- wire -->
<path d="M257,1071 C248,1066 240,1060 239.5,1055 C239,1050 245,1050 254,1050 C290,1046 420,1000 540,947 C570,935 595,924 613,915.5 C630,907 645,901 657,894 C665,889 670,884 675,879 C682,873 686,868 689,862 C693,852 696,843 696.4,836.4 C697,830 690,828 684,828.4 C678,829 675,832 675.6,834" fill="none" stroke="#111" stroke-width="6" stroke-linecap="butt" stroke-linejoin="round"/>
<path d="M257,1071 C248,1066 240,1060 239.5,1055 C239,1050 245,1050 254,1050 C290,1046 420,1000 540,947 C570,935 595,924 613,915.5 C630,907 645,901 657,894 C665,889 670,884 675,879 C682,873 686,868 689,862 C693,852 696,843 696.4,836.4 C697,830 690,828 684,828.4 C678,829 675,832 675.6,834" fill="none" stroke="#fff" stroke-width="3.4" stroke-linecap="butt" stroke-linejoin="round"/>
<path class="n" d="M676.8,834.8 L688.8,847.6 M674,877 L677,881 M691,865 L695,867 M695,840 L699,841 M667,890 L671,894 M244,1049 L246,1053 M248,1063 L246,1066"/>
<path class="p" d="M252.9,1074.3 L266.8,1066.9 L304.6,1088.2 L304.9,1097.7 L292.5,1105.8 L252.9,1083.8 Z"/>
<path class="n" d="M252.9,1074.3 L291,1095.5 L304.6,1088.2 M291,1095.5 L292.5,1105.8 M293,1098 L303,1092 L304,1097 L295,1103 Z"/>
<!-- 635 boot [320,1700] f=0.086667 -->
<g transform="translate(320,1700) scale(0.086667)">
<path class="p" d="M620,730 L990,515 C1050,510 1130,580 1200,700 C1240,780 1230,870 1200,910 L580,1270 C500,1310 400,1310 330,1270 C280,1240 250,1180 250,1150 L400,1000 Z"/>
<path class="p" d="M125,300 C120,250 200,160 350,150 C450,150 500,190 510,220 L640,870 C650,1000 620,1120 590,1170 C400,1230 280,1200 250,1130 Z"/>
<path class="n" d="M125,310 C180,400 300,420 490,330 M130,330 C190,420 320,430 500,350 M490,200 C520,240 510,300 490,330"/>
<ellipse class="n" cx="310" cy="265" rx="90" ry="55" transform="rotate(-15 310 265)"/>
<path class="n" d="M620,760 C680,790 710,850 690,960 C670,1050 630,1110 590,1170"/>
</g>

</svg>
</body></html>
